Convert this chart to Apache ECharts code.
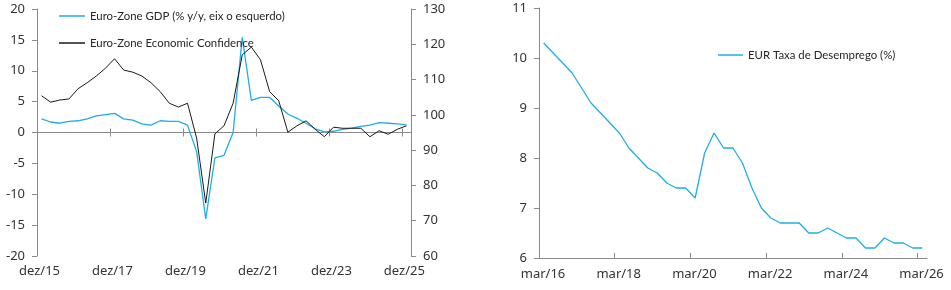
<!DOCTYPE html>
<html>
<head>
<meta charset="utf-8">
<script src="https://cdn.jsdelivr.net/npm/echarts@6/dist/echarts.min.js"></script>
<style>
html,body{margin:0;padding:0;background:#fff;}
#c{width:951px;height:290px;}
</style>
</head>
<body>
<div id="c"></div>
<script>
// Left chart: quarterly data from Q4 2015 to Q4 2025
const gdpName = 'Euro-Zone GDP (% y/y, eix o esquerdo)';
const confName = 'Euro-Zone Economic Confidence';
const gdp = [2.2, 1.7, 1.5, 1.8, 1.9, 2.2, 2.7, 2.9, 3.1, 2.2, 2.0, 1.4, 1.2, 1.9, 1.8, 1.8, 1.2, -3.1, -14.0, -4.1, -3.7, 0.0, 15.4, 5.2, 5.7, 5.7, 4.3, 3.0, 2.3, 1.5, 0.6, 0.1, 0.2, 0.5, 0.7, 1.0, 1.2, 1.6, 1.5, 1.4, 1.25];
const confidence = [105.4, 103.6, 104.2, 104.5, 107.4, 109.1, 111.0, 113.2, 115.9, 112.7, 112.1, 111.0, 109.1, 106.6, 103.3, 102.2, 103.3, 93.4, 75.0, 94.6, 96.9, 103.3, 117.0, 119.2, 115.6, 106.6, 104.0, 95.1, 96.9, 98.3, 95.9, 93.8, 96.5, 96.2, 96.2, 96.2, 93.8, 95.5, 94.5, 95.9, 96.9];
const leftXLabels = ['dez/15', 'dez/17', 'dez/19', 'dez/21', 'dez/23', 'dez/25'];
const leftYLabels = [-20, -15, -10, -5, 0, 5, 10, 15, 20];
const rightYLabelsLeftChart = [60, 70, 80, 90, 100, 110, 120, 130];

// Right chart: quarterly unemployment rate
const unempName = 'EUR Taxa de Desemprego (%)';
const unemployment = [10.3, 10.1, 9.9, 9.7, 9.4, 9.1, 8.9, 8.7, 8.5, 8.2, 8.0, 7.8, 7.7, 7.5, 7.4, 7.4, 7.2, 8.1, 8.5, 8.2, 8.2, 7.9, 7.4, 7.0, 6.8, 6.7, 6.7, 6.7, 6.5, 6.5, 6.6, 6.5, 6.4, 6.4, 6.2, 6.2, 6.4, 6.3, 6.3, 6.2, 6.2];
const rightXLabels = ['mar/16', 'mar/18', 'mar/20', 'mar/22', 'mar/24', 'mar/26'];
const unempYLabels = [6, 7, 8, 9, 10, 11];

// month offsets of each quarterly observation from the first axis tick
const toXY = arr => arr.map((v, i) => [1.5 + 3 * i, v]);

const FONT = 'Noto Sans';
const TXT = '#333333';
const AX = '#8a8a8a';
const BLUE = '#1eaee8';

function labelFrom(list) {
  return v => { const k = Math.round(v / 24); return (Math.abs(v - k * 24) < 1e-6 && list[k] !== undefined) ? list[k] : ''; };
}

const axisText = { fontFamily: FONT, fontSize: 13, color: TXT };
const legendText = { fontFamily: 'Lato', fontSize: 11.4, color: '#262626', lineHeight: 14 };

const option = {
  animation: false,
  backgroundColor: '#ffffff',
  grid: [
    { left: 37, top: 9, width: 374, height: 247, containLabel: false, outerBoundsMode: 'none' },
    { left: 539, top: 8, width: 388, height: 250, containLabel: false, outerBoundsMode: 'none' }
  ],
  legend: [
    { data: [gdpName], left: 59, top: 9, itemWidth: 26, itemHeight: 1.5, icon: 'rect', padding: 0, textStyle: legendText },
    { data: [confName], left: 59, top: 36, itemWidth: 26, itemHeight: 1.5, icon: 'rect', padding: 0, textStyle: legendText },
    { data: [unempName], left: 718, top: 48, itemWidth: 25, itemHeight: 1.5, icon: 'rect', padding: 0, textStyle: legendText }
  ],
  xAxis: [
    // left chart: labels at bottom
    { gridIndex: 0, type: 'value', min: 0, max: 123, interval: 24, position: 'bottom',
      axisLine: { show: false, onZero: false }, axisTick: { show: false }, splitLine: { show: false },
      axisLabel: Object.assign({ formatter: labelFrom(leftXLabels), margin: 9, showMaxLabel: false, padding: [0, 0, 0, 5] }, axisText) },
    // left chart: zero line with downward ticks
    { gridIndex: 0, type: 'value', min: 0, max: 123, interval: 24, position: 'bottom',
      axisLine: { show: true, onZero: true, onZeroAxisIndex: 0, lineStyle: { color: AX, width: 1 } },
      axisTick: { show: true, length: 4, lineStyle: { color: AX } }, axisLabel: { show: false }, splitLine: { show: false } },
    // left chart: upward ticks at zero line
    { gridIndex: 0, type: 'value', min: 0, max: 123, interval: 24, position: 'top',
      axisLine: { show: false, onZero: true, onZeroAxisIndex: 0 },
      axisTick: { show: true, length: 4, lineStyle: { color: AX } }, axisLabel: { show: false }, splitLine: { show: false } },
    // right chart
    { gridIndex: 1, type: 'value', min: 0, max: 123, interval: 24, position: 'bottom',
      axisLine: { show: true, onZero: false, lineStyle: { color: AX, width: 1 } },
      axisTick: { show: true, inside: true, length: 5, lineStyle: { color: AX } }, splitLine: { show: false },
      axisLabel: Object.assign({ formatter: labelFrom(rightXLabels), margin: 10, showMaxLabel: false, padding: [0, 0, 0, 8] }, axisText) }
  ],
  yAxis: [
    { gridIndex: 0, type: 'value', min: leftYLabels[0], max: leftYLabels[leftYLabels.length - 1], interval: 5, position: 'left',
      axisLine: { show: true, onZero: false, lineStyle: { color: AX, width: 1 } },
      axisTick: { show: true, length: 5, lineStyle: { color: AX } }, splitLine: { show: false },
      axisLabel: Object.assign({ margin: 12 }, axisText) },
    { gridIndex: 0, type: 'value', min: rightYLabelsLeftChart[0], max: rightYLabelsLeftChart[rightYLabelsLeftChart.length - 1], interval: 10, position: 'right',
      axisLine: { show: true, onZero: false, lineStyle: { color: AX, width: 1 } },
      axisTick: { show: true, length: 5, lineStyle: { color: AX } }, splitLine: { show: false },
      axisLabel: Object.assign({ margin: 12 }, axisText) },
    { gridIndex: 1, type: 'value', min: unempYLabels[0], max: unempYLabels[unempYLabels.length - 1], interval: 1, position: 'left',
      axisLine: { show: true, onZero: false, lineStyle: { color: AX, width: 1 } },
      axisTick: { show: true, length: 5, lineStyle: { color: AX } }, splitLine: { show: false },
      axisLabel: Object.assign({ margin: 12 }, axisText) }
  ],
  series: [
    { name: gdpName, type: 'line', xAxisIndex: 0, yAxisIndex: 0, data: toXY(gdp), symbol: 'none',
      lineStyle: { color: BLUE, width: 1.3 }, itemStyle: { color: BLUE }, z: 3 },
    { name: confName, type: 'line', xAxisIndex: 0, yAxisIndex: 1, data: toXY(confidence), symbol: 'none',
      lineStyle: { color: '#1a1a1a', width: 1 }, itemStyle: { color: '#1a1a1a' }, z: 4 },
    { name: unempName, type: 'line', xAxisIndex: 3, yAxisIndex: 2, data: toXY(unemployment), symbol: 'none',
      lineStyle: { color: BLUE, width: 1.3 }, itemStyle: { color: BLUE } }
  ]
};

const chart = echarts.init(document.getElementById('c'), null, { renderer: 'canvas' });
chart.setOption(option);
</script>
</body>
</html>
